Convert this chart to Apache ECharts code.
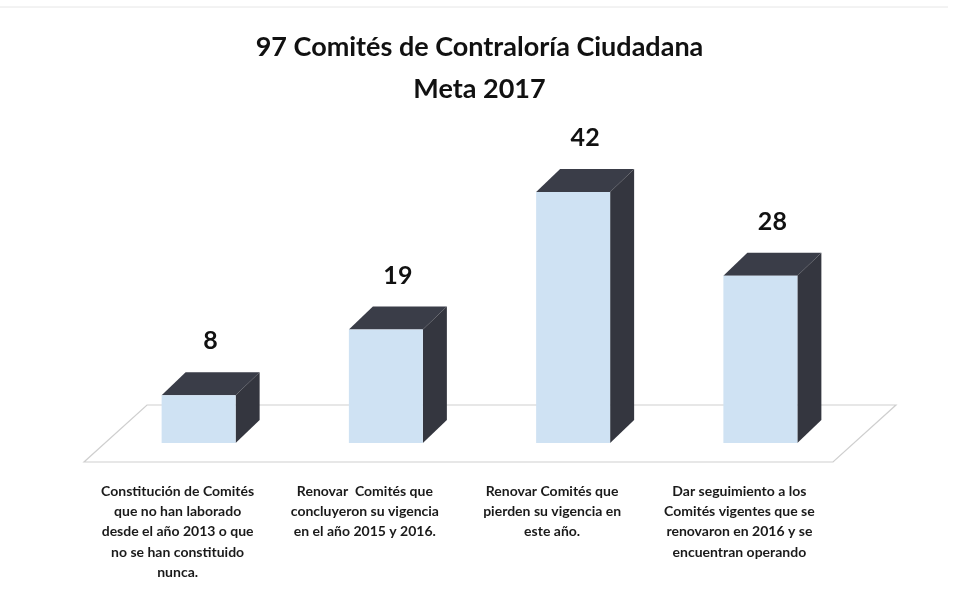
<!DOCTYPE html>
<html>
<head>
<meta charset="utf-8">
<title>Meta 2017</title>
<script src="https://cdn.jsdelivr.net/npm/echarts@6/dist/echarts.min.js"></script>
<style>
  html, body { margin: 0; padding: 0; background: #fff; }
  #main { width: 959px; height: 602px; }
</style>
</head>
<body>
<div id="main"></div>
<script>
// datos
var categorias = [
  'Constitución de Comités\nque no han laborado\ndesde el año 2013 o que\nno se han constituido\nnunca.',
  'Renovar  Comités que\nconcluyeron su vigencia\nen el año 2015 y 2016.',
  'Renovar Comités que\npierden su vigencia en\neste año.',
  'Dar seguimiento a los\nComités vigentes que se\nrenovaron en 2016 y se\nencuentran operando'
];
var valores = [8, 19, 42, 28];

var chart = echarts.init(document.getElementById('main'));

// desplazamiento de perspectiva (piso y cajas)
var PISO_DX = 63, PISO_DY = -57;
var CAJA_DX = 24, CAJA_DY = -23;
var ANCHO = 74;

function pintaCaja(params, api) {
  var base = api.coord([api.value(0), 0]);
  var tope = api.coord([api.value(0), api.value(1)]);
  // la caja queda a un tercio de la profundidad del piso
  var sx = PISO_DX / 3, sy = PISO_DY / 3;
  var x0 = base[0] - ANCHO / 2 + sx, x1 = x0 + ANCHO;
  var yb = base[1] + sy, yt = tope[1] + sy;
  var oscuro = '#3a3d48';
  return {
    type: 'group',
    children: [
      { type: 'polygon', shape: { points: [[x0, yt], [x1, yt], [x1 + CAJA_DX, yt + CAJA_DY], [x0 + CAJA_DX, yt + CAJA_DY]] },
        style: { fill: oscuro } },
      { type: 'polygon', shape: { points: [[x1, yt], [x1 + CAJA_DX, yt + CAJA_DY], [x1 + CAJA_DX, yb + CAJA_DY], [x1, yb]] },
        style: { fill: '#34363f' } },
      { type: 'rect', shape: { x: x0, y: yt, width: ANCHO, height: yb - yt },
        style: { fill: '#cfe2f3' } },
      { type: 'text', x: x0 + (ANCHO + CAJA_DX) / 2, y: yt + CAJA_DY - 31,
        style: { text: String(api.value(1)), fill: '#111', font: 'bold 25px Lato', align: 'center', verticalAlign: 'middle' } }
    ]
  };
}

function pintaPiso(params, api) {
  var r = params.coordSys;
  var bx = r.x, by = r.y + r.height, ex = r.x + r.width;
  return {
    type: 'polygon',
    shape: { points: [[bx, by], [ex, by], [ex + PISO_DX, by + PISO_DY], [bx + PISO_DX, by + PISO_DY]] },
    style: { fill: '#fff', stroke: '#cfcfcf', lineWidth: 1.2 }
  };
}

var option = {
  backgroundColor: '#fff',
  animation: false,
  title: {
    text: '97 Comités de Contraloría Ciudadana\nMeta 2017',
    left: 'center',
    top: 21,
    textStyle: { fontFamily: 'Lato', fontWeight: 'bold', fontSize: 27, lineHeight: 42, color: '#111' }
  },
  graphic: [
    { type: 'line', shape: { x1: 0, y1: 7, x2: 948, y2: 7 }, style: { stroke: '#e6e6e6', lineWidth: 1 } }
  ],
  grid: { left: 84, right: 126, top: 103.4, bottom: 140 },
  xAxis: {
    type: 'category',
    data: categorias,
    axisLine: { show: false },
    axisTick: { show: false },
    axisLabel: {
      interval: 0,
      margin: 19,
      fontFamily: 'Lato',
      fontWeight: 'bold',
      fontSize: 14,
      lineHeight: 20.3,
      color: '#1a1a1a',
      align: 'center'
    }
  },
  yAxis: {
    type: 'value',
    min: 0,
    max: 60,
    show: false,
    splitLine: { show: false }
  },
  series: [
    {
      type: 'custom',
      renderItem: pintaPiso,
      data: [[0]],
      silent: true,
      z: 1
    },
    {
      type: 'custom',
      renderItem: pintaCaja,
      encode: { x: 0, y: 1 },
      data: valores.map(function (v, i) { return [i, v]; }),
      z: 2
    }
  ]
};

chart.setOption(option);
</script>
</body>
</html>
